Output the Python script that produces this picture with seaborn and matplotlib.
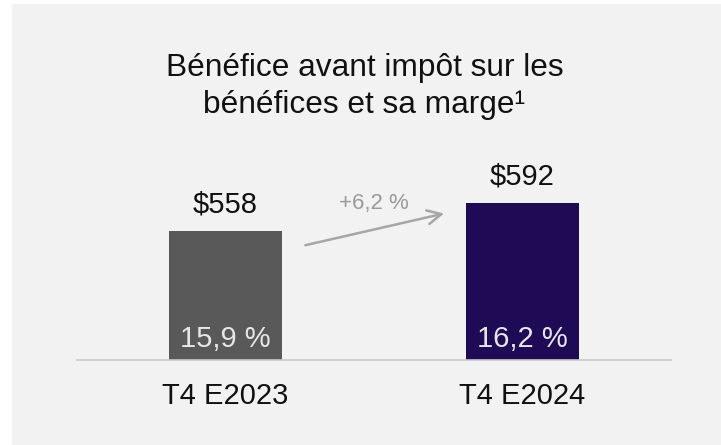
import seaborn as sns
import matplotlib.pyplot as plt
from matplotlib.patches import Rectangle
import pandas as pd

# data
periods = ["T4 E2023", "T4 E2024"]
profit = [558, 592]
profit_labels = ["$558", "$592"]
margin_labels = ["15,9 %", "16,2 %"]
growth_label = "+6,2 %"
bar_colors = ["#595959", "#1f0a56"]
title = "Bénéfice avant impôt sur les\nbénéfices et sa marge¹"

sns.set_style("white")
plt.rcParams["font.family"] = ["Liberation Sans", "DejaVu Sans"]

df = pd.DataFrame({"period": periods, "profit": profit})

fig = plt.figure(figsize=(7.21, 4.45), dpi=100)
fig.patch.set_facecolor("white")
# light gray panel behind the chart
fig.add_artist(Rectangle((12 / 721, 0), 1, 441 / 445, transform=fig.transFigure,
                         facecolor="#f2f2f2", edgecolor="none", zorder=0))

ax = fig.add_axes([77 / 721, 85 / 445, 594 / 721, 210 / 445])
ax.set_facecolor("none")

bar_w = 0.38
sns.barplot(data=df, x="period", y="profit", hue="period", palette=bar_colors,
            width=bar_w, saturation=1, legend=False, linewidth=0, edgecolor="none", ax=ax)

ax.set_xlim(-0.5, 1.5)
ax.set_ylim(401.4, 656.3)
ax.set_xlabel("")
ax.set_ylabel("")
ax.set_yticks([])
ax.tick_params(axis="x", length=0, pad=16, labelsize=21, labelcolor="#111111")

for s in ["top", "left", "right"]:
    ax.spines[s].set_visible(False)
ax.spines["bottom"].set_color("#c8c8c8")
ax.spines["bottom"].set_linewidth(1.2)

y0 = ax.get_ylim()[0]
for i, v in enumerate(profit):
    ax.annotate(profit_labels[i], (i, v), xytext=(0, 13), textcoords="offset points",
                ha="center", va="baseline", fontsize=21, color="#111111")
    ax.annotate(margin_labels[i], (i, y0), xytext=(0, 9.5), textcoords="offset points",
                ha="center", va="baseline", fontsize=21, color="#e6e6e6")

# growth arrow between the bars
ax.annotate("", xy=(1 - bar_w / 2 - 0.065, profit[1] - 12),
            xytext=(bar_w / 2 + 0.07, profit[0] - 18),
            arrowprops=dict(arrowstyle="->,head_length=1.0,head_width=0.5",
                            color="#a6a6a6", lw=1.8))
ax.text(0.5, (profit[0] + profit[1]) / 2 + 10, growth_label, ha="center", va="baseline",
        fontsize=16, color="#9a9a9a")

# baseline of the second title line
fig.text(364.5 / 721, (445 - 113) / 445, title, ha="center", va="baseline",
         fontsize=22.8, color="#111111", linespacing=1.32)

fig.savefig("out.png", dpi=100)
